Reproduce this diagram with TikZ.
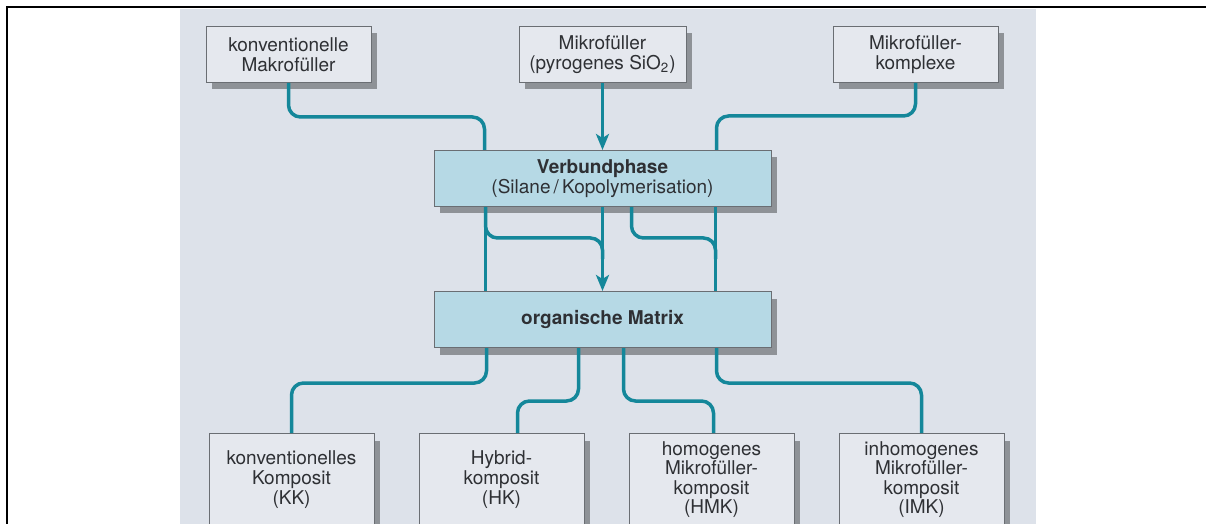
\documentclass[tikz,border=0pt]{standalone}
\usepackage{fontspec}
\setmainfont{TeX Gyre Heros}
\usepackage{xcolor}
\usepackage{tikz}
\usetikzlibrary{calc,positioning,shadows,arrows.meta}

\definecolor{paper}{HTML}{DDE2EA}
\definecolor{boxfill}{HTML}{E5E8EE}
\definecolor{phasefill}{HTML}{B6D9E5}
\definecolor{boxline}{HTML}{6A6E73}
\definecolor{shade}{HTML}{8E9297}
\definecolor{duct}{HTML}{14879A}
\definecolor{ink}{HTML}{2E3034}

\begin{document}
\begin{tikzpicture}[
  x=0.5pt, y=-0.5pt,
  filler/.style={rectangle, draw=boxline, fill=boxfill, line width=0.5pt, minimum width=82.5pt, minimum height=28pt, font=\fontsize{9.5}{9.8}\selectfont, text=ink, inner sep=1pt, align=center, drop shadow={shadow xshift=3pt, shadow yshift=-3.5pt, fill=shade, opacity=1}},
  phase/.style={filler, fill=phasefill, minimum width=168.5pt},
  komposit/.style={filler, minimum height=46pt},
  link/.style={draw=duct, line width=1.75pt, rounded corners=6pt},
  flow/.style={link, -{Stealth[length=8pt, width=6.5pt, inset=2pt]}}
]
\useasboundingbox (0,0) rectangle (1206,524);

% page frame and grey plate
\fill[paper] (180,9) rectangle (1036,530);
\draw[line width=1pt] (7,540) |- (1215,7);

% fillers (top row)
\node[filler, minimum width=83.5pt] (mik) at (602.5,54.5) {Mikrofüller\\(pyrogenes SiO\textsubscript{2})};
\node[filler, left=73.5pt of mik] (mak) {konventionelle\\Makrofüller};
\node[filler, right=73pt of mik] (kom) {Mikrofüller-\\komplexe};

% bonding phase and matrix
\node[phase, below=33.5pt of mik] (verbund) {\textbf{Verbundphase}\\(Silane\,/\,Kopolymerisation)};
\node[phase, below=42pt of verbund] (matrix) {\textbf{organische Matrix}};

% composites (bottom row)
\node[komposit, anchor=north] (kk) at (291.5,433) {konventionelles\\Komposit\\(KK)};
\node[komposit, right=22pt of kk] (hk) {Hybrid-\\komposit\\(HK)};
\node[komposit, right=22pt of hk] (hmk) {homogenes\\Mikrofüller-\\komposit\\(HMK)};
\node[komposit, right=22pt of hmk] (imk) {inhomogenes\\Mikrofüller-\\komposit\\(IMK)};

% docking points on the two wide boxes
\coordinate (vin-l) at ($(verbund.north west)+(51,0)$);
\coordinate (vin-r) at ($(verbund.north west)+(283,0)$);
\coordinate (vout-l) at ($(verbund.south west)+(52,0)$);
\coordinate (vout-m) at ($(verbund.south west)+(198,0)$);
\coordinate (vout-r) at ($(verbund.south west)+(282,0)$);
\coordinate (mout-1) at ($(matrix.south west)+(53,0)$);
\coordinate (mout-2) at ($(matrix.south west)+(145,0)$);
\coordinate (mout-3) at ($(matrix.south west)+(190,0)$);
\coordinate (mout-4) at ($(matrix.south west)+(283,0)$);

% fillers into the bonding phase
\draw[link] (mak.south) |- ($(vin-l)+(0,-33)$) -- (vin-l);
\draw[flow] (mik.south) -- (verbund.north);
\draw[link] (kom.south) |- ($(vin-r)+(0,-34)$) -- (vin-r);

% bonding phase into the matrix
\draw[link] (vout-l) -- (vout-l |- matrix.north);
\draw[link] (vout-r) -- (vout-r |- matrix.north);
\draw[link] (vout-l) |- ($(verbund.south)+(0,31)$) -- ($(verbund.south)+(0,52)$);
\draw[link] (vout-m) |- ($(vout-r)+(0,31)$) -- ($(vout-r)+(0,52)$);
\draw[flow] (verbund.south) -- (verbund.south |- matrix.north);

% matrix out to the composites
\draw[link] (mout-1) |- ($(kk.north)+(0,-50)$) -- (kk.north);
\draw[link] (mout-2) |- ($(hk.north)+(16,-32)$) -- ($(hk.north)+(16,0)$);
\draw[link] (mout-3) |- ($(hmk.north)+(2,-32)$) -- ($(hmk.north)+(2,0)$);
\draw[link] (mout-4) |- ($(imk.north)+(0,-50)$) -- (imk.north);

\end{tikzpicture}
\end{document}
